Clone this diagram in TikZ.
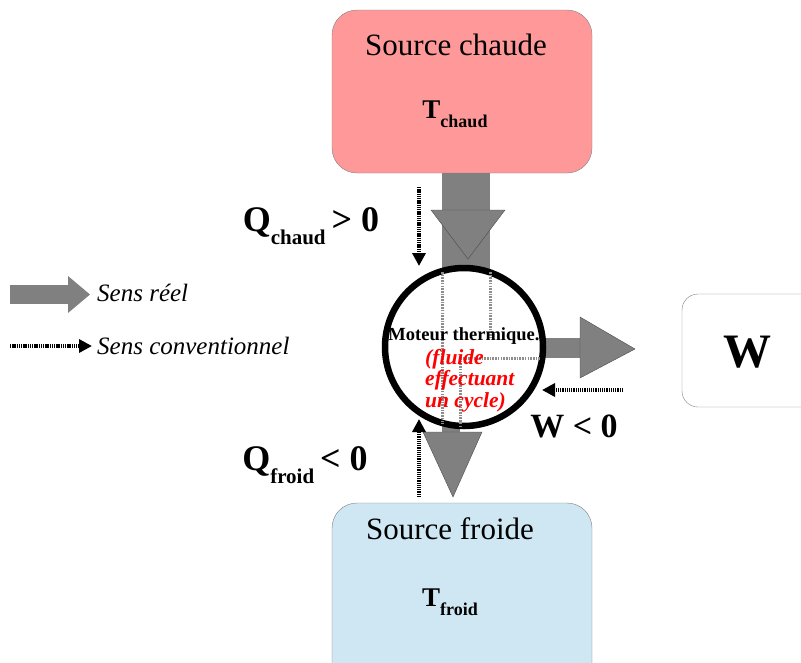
\documentclass[tikz,border=0pt]{standalone}
\usepackage{fontspec}
\setmainfont{Liberation Serif}
\usepackage{tikz}
\usetikzlibrary{arrows.meta}
\definecolor{hotc}{HTML}{FF9999}
\definecolor{coldc}{HTML}{CFE6F3}
\definecolor{flowc}{HTML}{808080}
\tikzset{
  source/.style={draw=flowc,thin,rounded corners=25pt},
  real/.style={fill=flowc},
  realhead/.style={fill=flowc,draw=black!70,thin},
  conv/.style={line width=3.5pt,dash pattern=on 1.3pt off 0.9pt,-{Triangle[length=13pt,width=13pt]}},
  hidden/.style={draw=flowc!90,line width=3pt,dash pattern=on 1.6pt off 1.1pt}
}
\newcommand\lowsub[2]{\raisebox{-0.8ex}{\fontsize{#1}{#1}\selectfont #2}}
\newcommand\fs[1]{\fontsize{#1}{#1}\selectfont}

\begin{document}
\begin{tikzpicture}[x=1pt,y=-1pt]
  \useasboundingbox (0,0) rectangle (801,662);
  % sources et travail
  \filldraw[source,fill=hotc] (332,10) rectangle (592,173);
  \filldraw[source,fill=coldc] (332,503) rectangle (592,690);
  \draw[source,rounded corners=16pt] (682,294) rectangle (840,407);
  \node[anchor=base] (hottxt) at (456,55) {\fs{31}Source chaude};
  \node[anchor=base] (hotT) at (455,118) {\fs{27}\bfseries T\lowsub{18}{chaud}};
  \node[anchor=base] (coldtxt) at (450,539) {\fs{31}Source froide};
  \node[anchor=base] (coldT) at (450,606) {\fs{27}\bfseries T\lowsub{18}{froid}};
  \node[anchor=base] (work) at (747,367) {\fs{48}\bfseries W};
  % sens reel
  \fill[real] (442,173) rectangle (490,272);
  \filldraw[realhead] (431,210) -- (505,210) -- (468,259) -- cycle;
  \fill[real] (540,338) rectangle (582,358);
  \filldraw[realhead] (580,317) -- (580,378) -- (635,349) -- cycle;
  \fill[real] (442,425) rectangle (460,440);
  \filldraw[realhead] (423,432) -- (482,432) -- (453,497) -- cycle;
  % moteur
  \filldraw[fill=white,line width=6.5pt] (464,347) circle (79) coordinate (engine);
  \draw[hidden] (442,272) -- (442,424);
  \draw[hidden] (490,272) -- (490,338);
  \draw[hidden] (460,358) -- (540,358);
  \draw[hidden] (460,358) -- (460,426);
  \node[anchor=base] (enginetxt) at (464,340) {\fs{18.5}\bfseries Moteur thermique.};
  \node[anchor=north west,inner sep=0pt,align=left,text=red,font=\fs{21.5}\bfseries\itshape]
    (fluid) at (425,349) {(fluide\\effectuant\\un cycle)};
  % sens conventionnel
  \coordinate (qh0) at (419,187); \coordinate (qh1) at (419,266);
  \coordinate (qc0) at (419,497); \coordinate (qc1) at (419,419);
  \coordinate (w0) at (623,390);  \coordinate (w1) at (542,390);
  \draw[conv] (qh0) -- (qh1);
  \draw[conv] (qc0) -- (qc1);
  \draw[conv] (w0) -- (w1);
  \node[anchor=base] (qhot) at (311,231) {\fs{36}\bfseries Q\lowsub{21}{chaud}\,> 0};
  \node[anchor=base] (qcold) at (305,470) {\fs{36}\bfseries Q\lowsub{21}{froid}\,< 0};
  \node[anchor=base] (wneg) at (574,437) {\fs{34}\bfseries W < 0};
  % legende
  \fill[real] (10,285) rectangle (68,304);
  \fill[real] (68,276) -- (68,313) -- (90,294.5) -- cycle;
  \coordinate (lg0) at (10,346); \coordinate (lg1) at (92,346);
  \draw[conv] (lg0) -- (lg1);
  \node[anchor=base west,inner sep=0pt] (real) at (97,301) {\fs{25}\itshape Sens réel};
  \node[anchor=base west,inner sep=0pt] (convtxt) at (97,354) {\fs{25}\itshape Sens conventionnel};
\end{tikzpicture}
\end{document}
